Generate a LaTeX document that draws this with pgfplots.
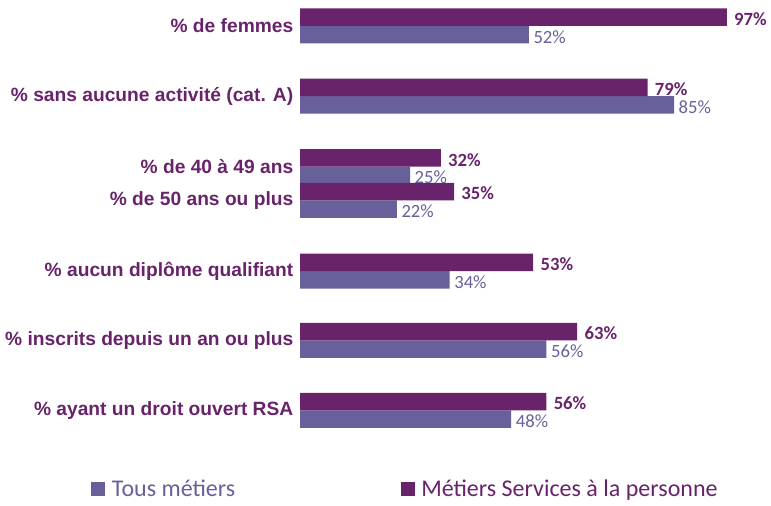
\documentclass[border=0pt]{standalone}
\usepackage{pgfplots}
\pgfplotsset{compat=1.18}
\usepackage{fontspec}
\setmainfont{Carlito}
\newfontfamily\labfont{Liberation Sans}
\definecolor{dpurp}{HTML}{68236B}
\definecolor{lav}{HTML}{67609A}
\begin{document}
\begin{tikzpicture}
\useasboundingbox (0,0) rectangle (578.25pt,379.5pt);
\begin{axis}[
 at={(225pt,49.5pt)}, anchor=south west,
 scale only axis, width=330pt, height=330pt,
 xmin=0, xmax=100, ymin=-0.3714, ymax=5.914, y dir=reverse,
 xbar, bar width=13.125pt, bar shift=0pt,
 axis line style={draw=none}, xtick=\empty,
 ytick={0,1,2.01,2.49,3.5,4.49,5.49},
 yticklabels={{\% de femmes},{\% sans aucune activité (cat. A)},{\% de 40 à 49 ans},{\% de 50 ans ou plus},{\% aucun diplôme qualifiant},{\% inscrits depuis un an ou plus},{\% ayant un droit ouvert RSA}},
 major tick length=0pt,
 yticklabel style={font=\labfont\bfseries\fontsize{14.4}{16}\selectfont, text=dpurp, xshift=-1.5pt},
 clip=false,
 point meta=x,
 /pgf/number format/assume math mode=true,
 nodes near coords={\pgfmathprintnumber{\pgfplotspointmeta}\%},
 legend style={draw=none, fill=none, at={(-0.484,-0.111)}, anchor=west, legend columns=2,
   font=\fontsize{18}{20}\selectfont, /tikz/every even column/.append style={column sep=122pt}},
 ]
\addplot[fill=lav, draw=none,
  every node near coord/.append style={font=\fontsize{14}{15}\selectfont, text=lav, xshift=0pt, yshift=-1.5pt},
  legend image code/.code={\fill[lav] (0pt,-5.25pt) rectangle (10.5pt,5.25pt);}]
 coordinates {(52,0.125) (85,1.125) (25,2.135) (22,2.615) (34,3.625) (56,4.615) (48,5.615)};
\addplot[fill=dpurp, draw=none,
  every node near coord/.append style={font=\bfseries\fontsize{14}{15}\selectfont, text=dpurp, xshift=2pt, yshift=-1.5pt},
  legend image code/.code={\fill[dpurp] (0pt,-5.25pt) rectangle (10.5pt,5.25pt);}]
 coordinates {(97,-0.125) (79,0.875) (32,1.885) (35,2.365) (53,3.375) (63,4.365) (56,5.365)};
\legend{\textcolor{lav}{\hspace{3pt}Tous métiers},\textcolor{dpurp}{\hspace{3pt}Métiers Services à la personne}}
\end{axis}
\end{tikzpicture}
\end{document}
